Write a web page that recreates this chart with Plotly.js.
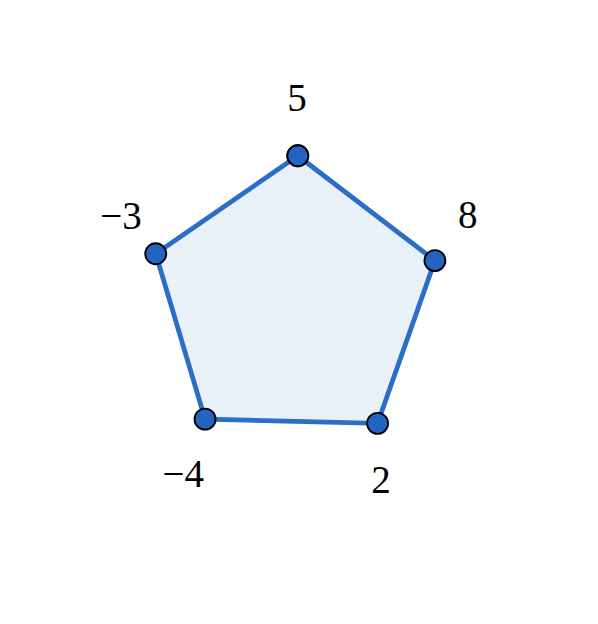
<!DOCTYPE html>
<html>
<head>
<meta charset="utf-8">
<script src="https://cdn.plot.ly/plotly-3.0.1.min.js"></script>
<style>html,body{margin:0;padding:0;background:#fff;}#chart{width:598px;height:624px;}</style>
</head>
<body>
<div id="chart"></div>
<script>
// Data
const nodeValues = [5, 8, 2, -4, -3];
const nodeTheta = [0, 72, 144, 216, 288];
const nodeRadius = [1, 1, 1, 1, 1];
// label placement (style)
const labelTheta = [-0.6, 62.6, 152.9, 211.0, 294.15];
const labelRadius = [1.368, 1.315, 1.364, 1.409, 1.308];

const fmt = v => (v < 0 ? '\u2212' + Math.abs(v) : String(v));

const closedR = nodeRadius.concat([nodeRadius[0]]);
const closedT = nodeTheta.concat([nodeTheta[0]]);

const shape = {
  type: 'scatterpolar',
  r: closedR,
  theta: closedT,
  mode: 'lines+markers',
  fill: 'toself',
  fillcolor: '#e8f0f8',
  line: {color: '#2a6ec8', width: 4.8},
  marker: {size: 21, color: '#2264c0', line: {color: '#000', width: 1.8}},
  hoverinfo: 'skip',
  cliponaxis: false
};

const labels = {
  type: 'scatterpolar',
  r: labelRadius,
  theta: labelTheta,
  mode: 'text',
  text: nodeValues.map(fmt),
  textposition: 'middle center',
  textfont: {family: 'Liberation Serif, DejaVu Serif, serif', size: 39, color: '#000'},
  hoverinfo: 'skip',
  cliponaxis: false
};

const layout = {
  width: 598, height: 624,
  margin: {l: 0, r: 0, t: 0, b: 0},
  paper_bgcolor: '#fff',
  showlegend: false,
  polar: {
    domain: {x: [0.1360, 0.8480], y: [0.1740, 0.8564]},
    bgcolor: 'rgba(0,0,0,0)',
    radialaxis: {visible: false, range: [0, 1.45]},
    angularaxis: {visible: false, rotation: 88.6, direction: 'clockwise', thetaunit: 'degrees'}
  }
};

Plotly.newPlot('chart', [shape, labels], layout, {staticPlot: true, displayModeBar: false});
</script>
</body>
</html>
